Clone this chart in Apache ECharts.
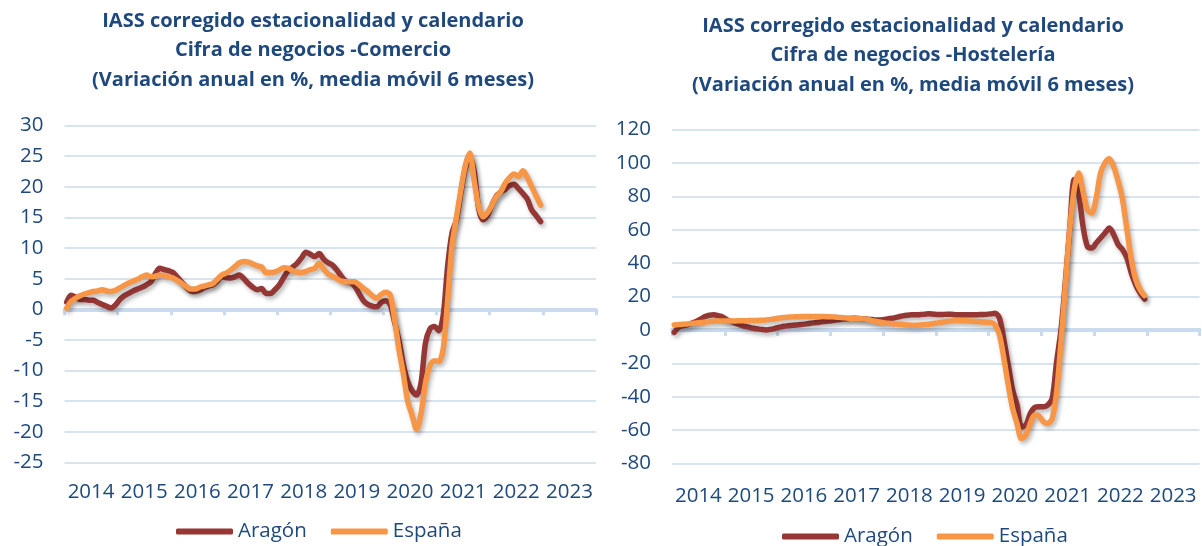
<!DOCTYPE html>
<html>
<head>
<meta charset="utf-8">
<script src="https://cdn.jsdelivr.net/npm/echarts@6/dist/echarts.min.js"></script>
<style>
html,body{margin:0;padding:0;background:#fff;}
#c{width:1202px;height:546px;}
</style>
</head>
<body>
<div id="c"></div>
<script>
// Year categories (x axis labels)
const years = ['2014','2015','2016','2017','2018','2019','2020','2021','2022','2023'];
const seriesNames = ['Aragón', 'España'];

// Monthly values Jan 2014 - Dec 2022
const comercioAragon = [
  1.2, 2.3, 2.0, 1.6, 1.6, 1.5, 1.5, 1.1, 0.8, 0.5, 0.2, 0.7,
  1.6, 2.2, 2.6, 3.0, 3.3, 3.6, 4.0, 4.5, 5.8, 6.7, 6.5, 6.3,
  6.0, 5.2, 4.4, 3.6, 3.0, 2.9, 3.1, 3.5, 3.8, 4.0, 4.6, 5.3,
  5.2, 5.1, 5.3, 5.6, 5.0, 4.2, 3.6, 3.2, 3.4, 2.6, 2.6, 3.2,
  4.0, 5.2, 6.3, 6.9, 7.5, 8.4, 9.3, 9.0, 8.6, 9.1, 8.2, 7.6,
  7.2, 6.4, 5.4, 4.6, 4.4, 3.8, 2.6, 1.4, 0.8, 0.5, 0.4, 1.1,
  1.4, 0.8, -2.0, -5.0, -9.0, -11.8, -13.3, -14.0, -12.0, -5.5, -3.2, -2.8,
  -3.5, -1.0, 7.0, 12.5, 14.6, 19.0, 23.0, 25.0, 22.5, 16.5, 14.6, 15.3,
  17.0, 18.5, 19.1, 19.6, 20.2, 20.4, 19.7, 18.9, 18.0, 16.2, 15.3, 14.3
];
const comercioEspana = [
  0.2, 1.3, 1.8, 2.2, 2.5, 2.7, 2.9, 3.0, 3.2, 3.0, 2.9, 3.1,
  3.5, 3.9, 4.3, 4.6, 4.9, 5.3, 5.6, 5.3, 5.4, 5.6, 5.5, 5.3,
  5.1, 4.7, 4.2, 3.7, 3.3, 3.3, 3.6, 3.8, 4.0, 4.2, 4.9, 5.6,
  5.9, 6.4, 7.0, 7.6, 7.8, 7.7, 7.4, 7.1, 6.9, 6.0, 6.0, 6.1,
  6.4, 6.8, 6.7, 6.3, 6.1, 6.0, 6.2, 6.5, 6.7, 7.5, 6.6, 5.8,
  5.4, 5.0, 4.6, 4.5, 4.5, 4.5, 4.0, 3.4, 2.9, 2.2, 1.8, 2.4,
  2.8, 2.4, -1.5, -6.5, -10.5, -15.0, -17.3, -19.6, -17.0, -12.0, -9.2, -8.4,
  -8.5, -6.5, 1.5, 10.5, 15.0, 19.5, 23.5, 25.5, 21.0, 16.8, 15.1, 15.8,
  17.0, 18.4, 19.2, 20.6, 21.5, 22.1, 21.7, 22.6, 21.5, 20.0, 18.5, 17.0
];
const hosteleriaAragon = [
  -1.5, 1.5, 2.5, 3.0, 4.0, 5.0, 6.5, 8.0, 8.8, 9.0, 8.5, 7.8,
  6.0, 5.0, 4.0, 3.0, 2.2, 1.6, 1.0, 0.6, 0.2, 0.0, 0.4, 1.0,
  1.6, 2.2, 2.5, 2.8, 3.0, 3.2, 3.6, 4.0, 4.3, 4.6, 5.0, 5.3,
  5.6, 6.0, 6.3, 6.6, 6.9, 7.0, 6.8, 6.6, 6.4, 6.2, 6.0, 6.0,
  6.3, 6.8, 7.2, 7.8, 8.4, 8.8, 9.0, 9.0, 9.2, 9.4, 9.6, 9.4,
  9.2, 9.2, 9.4, 9.3, 9.1, 9.0, 9.0, 9.1, 9.0, 9.1, 9.2, 9.3,
  9.6, 10.0, 7.0, -6.0, -21.0, -36.0, -45.0, -58.0, -57.0, -50.0, -46.5, -46.0,
  -46.0, -45.0, -41.0, -19.0, 0.0, 29.0, 61.0, 90.0, 82.0, 62.0, 50.0, 49.0,
  52.0, 55.0, 58.0, 61.0, 57.0, 51.0, 48.0, 43.0, 34.0, 27.0, 22.0, 18.5
];
const hosteleriaEspana = [
  3.0, 3.2, 3.4, 3.6, 3.9, 4.2, 4.4, 4.7, 5.0, 5.2, 5.4, 5.4,
  5.4, 5.4, 5.4, 5.5, 5.5, 5.6, 5.6, 5.7, 5.8, 6.0, 6.3, 6.7,
  7.1, 7.4, 7.6, 7.8, 7.9, 8.0, 8.0, 8.0, 8.0, 8.0, 8.0, 7.9,
  7.8, 7.6, 7.4, 7.2, 7.0, 6.9, 6.7, 6.6, 6.3, 5.6, 5.0, 4.6,
  4.2, 3.9, 3.6, 3.4, 3.2, 2.9, 2.8, 2.8, 3.0, 3.2, 3.4, 3.8,
  4.2, 4.6, 5.0, 5.4, 5.6, 5.6, 5.5, 5.4, 5.2, 5.0, 4.8, 4.6,
  4.5, 3.0, -3.0, -17.0, -33.0, -47.0, -56.0, -65.0, -63.0, -56.0, -51.0, -51.5,
  -55.0, -56.0, -53.0, -37.0, -7.0, 27.0, 61.0, 84.0, 94.0, 83.0, 72.0, 70.0,
  79.0, 94.0, 100.0, 102.5, 97.5, 89.0, 78.0, 60.0, 42.0, 30.0, 24.0, 20.5
];

const titleLeft = 'IASS corregido estacionalidad y calendario\nCifra de negocios -Comercio\n(Variación anual en %, media móvil 6 meses)';
const titleRight = 'IASS corregido estacionalidad y calendario\nCifra de negocios -Hostelería\n(Variación anual en %, media móvil 6 meses)';

const FONT = 'Open Sans';
const TXT = '#1F497D';
const GRIDC = '#D9E4F1';
const AXC = '#CADBEF';
const COLORS = ['#953735', '#F79646'];

// monthly points placed at the middle of each month slot (slot units = months since Jan 2014)
function toPoints(vals) { return vals.map((v, i) => [i + 0.5, v]); }

function lineSeries(name, vals, idx, color) {
  return {
    type: 'line', name: name, xAxisIndex: idx * 2, yAxisIndex: idx,
    data: toPoints(vals), showSymbol: false, smooth: 0.3,
    itemStyle: { color: color },
    lineStyle: { color: color, width: 5.5, cap: 'round', join: 'round',
      shadowColor: 'rgba(0,0,0,0.28)', shadowBlur: 4, shadowOffsetX: 2, shadowOffsetY: 3 },
    emphasis: { disabled: true }, animation: false
  };
}

function valueX(g) {
  return { type: 'value', gridIndex: g, min: 0, max: 120, interval: 12, position: 'bottom',
    axisLine: { show: true, onZero: true, lineStyle: { color: AXC, width: 4 } },
    axisTick: { show: true, length: 6, lineStyle: { color: AXC, width: 3 } },
    axisLabel: { show: false }, splitLine: { show: false } };
}
function catX(g, margin) {
  return { type: 'category', gridIndex: g, data: years, position: 'bottom', boundaryGap: true,
    axisLine: { show: false, onZero: false }, axisTick: { show: false },
    axisLabel: { interval: 0, hideOverlap: false, margin: margin, fontSize: 20.5, fontFamily: FONT, color: TXT },
    splitLine: { show: false } };
}
function valueY(g, min, max, interval) {
  return { type: 'value', gridIndex: g, min: min, max: max, interval: interval,
    axisLine: { show: false }, axisTick: { show: false },
    axisLabel: { margin: 21, fontSize: 20.5, fontFamily: FONT, color: TXT },
    splitLine: { lineStyle: { color: GRIDC, width: 2 } } };
}

const chart = echarts.init(document.getElementById('c'));
chart.setOption({
  animation: false,
  backgroundColor: '#fff',
  title: [
    { text: titleLeft, left: 313, top: 6.5, padding: 0, textAlign: 'center', textVerticalAlign: 'top',
      textStyle: { fontFamily: FONT, fontWeight: 'bold', fontSize: 20, lineHeight: 29.5, color: TXT } },
    { text: titleRight, left: 913, top: 11.5, padding: 0, textAlign: 'center', textVerticalAlign: 'top',
      textStyle: { fontFamily: FONT, fontWeight: 'bold', fontSize: 20, lineHeight: 29.5, color: TXT } }
  ],
  legend: [
    { data: seriesNames, left: 176, top: 521, padding: 0, icon: 'roundRect', itemWidth: 57, itemHeight: 6,
      itemGap: 24, selectedMode: false, textStyle: { fontFamily: FONT, fontSize: 20.5, color: TXT } },
    { data: seriesNames, left: 782, top: 526, padding: 0, icon: 'roundRect', itemWidth: 57, itemHeight: 6,
      itemGap: 24, selectedMode: false, textStyle: { fontFamily: FONT, fontSize: 20.5, color: TXT } }
  ],
  grid: [
    { left: 64.5, top: 125.5, width: 531.5, height: 337, containLabel: false },
    { left: 672, top: 129.5, width: 527.5, height: 334, containLabel: false }
  ],
  xAxis: [ valueX(0), catX(0, 19), valueX(1), catX(1, 22.5) ],
  yAxis: [ valueY(0, -25, 30, 5), valueY(1, -80, 120, 20) ],
  series: [
    lineSeries(seriesNames[0], comercioAragon, 0, COLORS[0]),
    lineSeries(seriesNames[1], comercioEspana, 0, COLORS[1]),
    lineSeries(seriesNames[0], hosteleriaAragon, 1, COLORS[0]),
    lineSeries(seriesNames[1], hosteleriaEspana, 1, COLORS[1])
  ]
});
</script>
</body>
</html>
